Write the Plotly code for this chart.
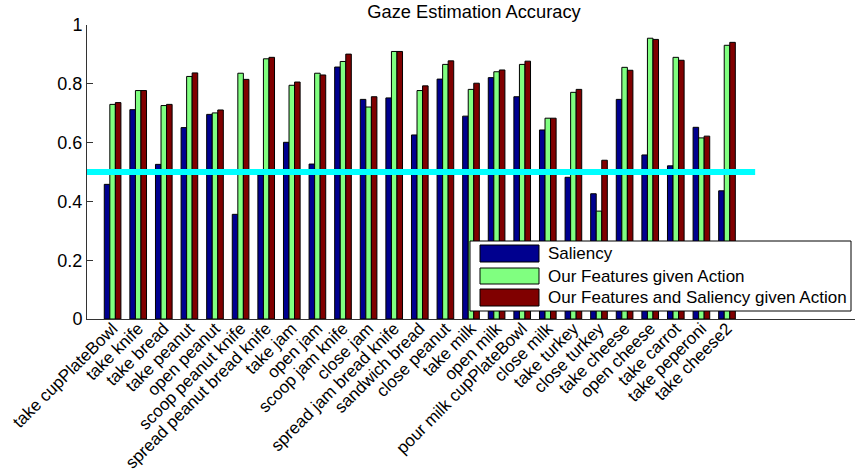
import plotly.graph_objects as go

# Action classes, one group of three bars per class
actions = [
    "take cupPlateBowl", "take knife", "take bread", "take peanut", "open peanut",
    "scoop peanut knife", "spread peanut bread knife", "take jam", "open jam",
    "scoop jam knife", "close jam", "spread jam bread knife", "sandwich bread",
    "close peanut", "take milk", "open milk", "pour milk cupPlateBowl", "close milk",
    "take turkey", "close turkey", "take cheese", "open cheese", "take carrot",
    "take peperoni", "take cheese2",
]

saliency = [0.458, 0.712, 0.526, 0.651, 0.696, 0.356, 0.490, 0.601, 0.527, 0.857,
            0.747, 0.752, 0.626, 0.816, 0.690, 0.821, 0.756, 0.643, 0.482, 0.426,
            0.747, 0.558, 0.521, 0.652, 0.436]
features_action = [0.730, 0.777, 0.726, 0.825, 0.701, 0.836, 0.885, 0.795, 0.836, 0.876,
                   0.721, 0.910, 0.777, 0.866, 0.781, 0.841, 0.866, 0.683, 0.771, 0.367,
                   0.856, 0.955, 0.890, 0.616, 0.931]
features_saliency_action = [0.736, 0.777, 0.730, 0.837, 0.711, 0.815, 0.890, 0.806, 0.830, 0.901,
                            0.756, 0.910, 0.793, 0.878, 0.802, 0.847, 0.877, 0.683, 0.781, 0.540,
                            0.846, 0.951, 0.880, 0.622, 0.941]

series_names = ["Saliency", "Our Features given Action", "Our Features and Saliency given Action"]
series_colors = ["#00008F", "#80FF80", "#800000"]

chance_level = 0.5
chance_x = [0, 26.1]

y_ticks = [0, 0.2, 0.4, 0.6, 0.8, 1]
y_tick_text = ["0", "0.2", "0.4", "0.6", "0.8", "1"]

FONT = "Liberation Sans, Arial, Helvetica, sans-serif"
W, H = 855, 475
ML, MR, MT, MB = 87, 0, 25, 156
XMAX = 30

positions = list(range(1, len(actions) + 1))

fig = go.Figure()
for name, vals, col in zip(series_names, [saliency, features_action, features_saliency_action], series_colors):
    fig.add_trace(go.Bar(
        x=positions, y=vals, name=name,
        marker=dict(color=col, line=dict(color="black", width=1)),
        showlegend=False,
    ))

fig.add_trace(go.Scatter(
    x=chance_x, y=[chance_level, chance_level], mode="lines",
    line=dict(color="#00FFFF", width=6), showlegend=False, hoverinfo="skip",
))

# pixel -> data helpers for the boxed legend
pw = W - ML - MR
ph = H - MT - MB
def dx(px):
    return (px - ML) / pw * XMAX
def dy(py):
    return (H - MB - py) / ph

shapes = [dict(type="rect", xref="x", yref="y", layer="above",
               x0=dx(470), x1=dx(851), y0=dy(311), y1=dy(241),
               fillcolor="white", line=dict(color="black", width=1))]
annotations = []
rows = [(245, 262), (268, 284), (289, 306)]
for (top, bot), name, col in zip(rows, series_names, series_colors):
    shapes.append(dict(type="rect", xref="x", yref="y", layer="above",
                       x0=dx(480), x1=dx(539), y0=dy(bot), y1=dy(top),
                       fillcolor=col, line=dict(color="black", width=1)))
    annotations.append(dict(xref="x", yref="y", x=dx(546), y=dy((top + bot) / 2),
                            text=name, showarrow=False, xanchor="left", yanchor="middle",
                            font=dict(family=FONT, size=17, color="black")))

fig.update_layout(
    width=W, height=H,
    margin=dict(l=ML, r=MR, t=MT, b=MB, autoexpand=False),
    paper_bgcolor="white", plot_bgcolor="white",
    barmode="group", bargap=0.35, bargroupgap=0,
    title=dict(text="Gaze Estimation Accuracy", x=474 / W, xref="container", xanchor="center",
               y=1 - 12 / H, yref="container", yanchor="middle",
               font=dict(family=FONT, size=18.3, color="black")),
    shapes=shapes, annotations=annotations,
    font=dict(family=FONT, size=18, color="black"),
)

fig.update_xaxes(
    range=[0, XMAX], tickmode="array", tickvals=positions, ticktext=actions,
    tickangle=-45, ticks="", showgrid=False, zeroline=False, automargin=False,
    ticklabelstandoff=-8,
    showline=True, linecolor="#333333", linewidth=1,
    tickfont=dict(family=FONT, size=17, color="black"),
)
fig.update_yaxes(
    range=[0, 1], tickmode="array", tickvals=y_ticks, ticktext=y_tick_text,
    ticks="inside", ticklen=6, tickcolor="#333333", automargin=False,
    showgrid=False, zeroline=False, showline=True, linecolor="#333333", linewidth=1,
    tickfont=dict(family=FONT, size=18, color="black"),
)

fig.write_html("out.html")
